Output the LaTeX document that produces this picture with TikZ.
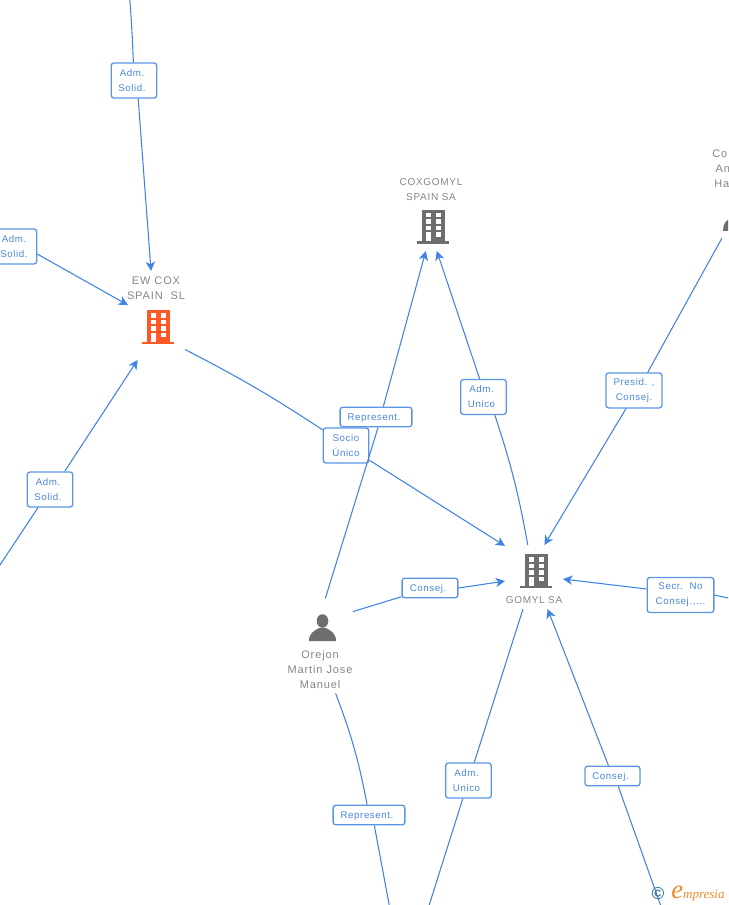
\documentclass[tikz,border=0pt]{standalone}
\usepackage{fontspec}
\usetikzlibrary{arrows.meta}
\newfontfamily\linkfont[LetterSpace=6]{Liberation Sans}
\newfontfamily\namefont[LetterSpace=7]{Liberation Sans}
\newfontfamily\wordfont[LetterSpace=8]{Liberation Sans}
\newfontfamily\logofont{Liberation Serif}
\newcommand{\rt}{\kern3pt}
\definecolor{linkblue}{HTML}{3F84E5}
\definecolor{boxblue}{HTML}{5B96E6}
\definecolor{textblue}{HTML}{4A88DC}
\definecolor{namegray}{HTML}{858585}
\definecolor{icongray}{HTML}{6E6E6E}
\definecolor{iconorange}{HTML}{FF5A26}
\definecolor{logoteal}{HTML}{3F7C9C}
\definecolor{logoorange}{HTML}{EE8A2C}
\tikzset{
  link/.style={color=linkblue, line width=0.8pt},
  arrowlink/.style={link, -{Stealth[length=7pt, width=7pt, inset=2pt]}},
  relbox/.style={draw=boxblue, fill=white, line width=1pt, rounded corners=2pt, inner sep=0pt,
    text=textblue, align=center, font=\linkfont\fontsize{7.3}{11.25}\selectfont},
  twolines/.style={relbox, minimum width=34.2pt, minimum height=26.2pt},
  oneline/.style={relbox, minimum height=14.7pt, text height=5.2pt, text depth=0pt},
  entity/.style={inner sep=0pt, outer sep=0pt},
  caption/.style={text=namegray, align=center, inner sep=0pt, font=\namefont\fontsize{7.5}{11.25}\selectfont},
  bigcaption/.style={caption, font=\wordfont\fontsize{8.25}{11.25}\selectfont}
}
\newcommand{\buildingicon}[3]{
  \begin{scope}[shift={(#1,#2)}]
    \fill [#3] (-16,-2.5) rectangle (16,0);
    \fill [#3] (-11,-34) rectangle (11.5,0);
    \foreach \rowy in {-31,-24.5,-18,-11.5} {
      \fill [white] (2.5,\rowy) rectangle (7.5,\rowy+4.5);
    }
    \foreach \rowy in {-31,-24.5,-18} {
      \fill [white] (-7.5,\rowy) rectangle (-2.5,\rowy+4.5);
    }
    \fill [white] (-7.5,-11.5) rectangle (-2.5,-2.5);
  \end{scope}
}
\begin{document}
\begin{tikzpicture}[x=0.75pt, y=-0.75pt]
    \path [use as bounding box, clip] (0,0) rectangle (728,905);

    \buildingicon{158}{344}{iconorange}
    \buildingicon{433}{244}{icongray}
    \buildingicon{536}{588}{icongray}

    \fill [icongray] (322.5,621) ellipse (5.8 and 6.8);
    \fill [icongray] (309,641) .. controls (309,633) and (314,631) .. (319,628) -- (326,628)
      .. controls (331,631) and (336,633) .. (336,641) -- cycle;
    \fill [icongray] (723,231) .. controls (723,224) and (726,220) .. (730,219) -- (730,231) -- cycle;

    \node (ewcox) at (156.5,315.5) [entity, minimum width=42.75pt, minimum height=66.75pt] {};
    \node (coxgomyl) at (432,212) [entity, minimum width=37.5pt, minimum height=58.5pt] {};
    \node (gomyl) at (534,577) [entity, minimum width=43.5pt, minimum height=48pt] {};
    \node (orejon) at (322,646) [entity, minimum width=46.5pt, minimum height=71.25pt] {};
    \node (cohen) at (745,190) [entity, minimum width=34.5pt, minimum height=72pt] {};

    \node (ewcoxname) at (156,288.5) [bigcaption] {EW COX\\SPAIN\ \ SL};
    \node (coxgomylname) at (431,190) [caption] {COXGOMYL\\SPAIN SA};
    \node (gomylname) at (534,600) [caption] {GOMYL SA};
    \node (orejonname) at (320,670) [bigcaption] {Orejon\\Martin Jose\\Manuel};
    \node (cohenname) at (712,169) [bigcaption, anchor=west, align=left] {Co\\\hspace*{2.5pt}An\\\hspace*{1.5pt}Ha};

    \coordinate (topfree) at (129.5,-5);
    \coordinate (leftfree) at (-4,571);
    \coordinate (rightfree) at (760,605);
    \coordinate (bottomA) at (390.5,912);
    \coordinate (bottomB) at (427,912);
    \coordinate (bottomC) at (663,912);

    \node (admtop) at (134,80.5) [twolines] {Adm.\rt\\Solid.\rt};
    \node (admleft) at (14,246.5) [twolines] {Adm.\\Solid.};
    \node (admlow) at (50,489.5) [twolines] {Adm.\rt\\Solid.\rt};
    \node (socio) at (346,445.5) [twolines] {Socio\\Único};
    \node (repup) at (376,417) [oneline, minimum width=53.8pt] {Represent.\rt};
    \node (admcox) at (483.5,397) [twolines] {Adm.\rt\\Unico\rt};
    \node (presid) at (634,390.5) [twolines, minimum width=42pt] {Presid. ,\\Consej.};
    \node (secr) at (680.5,595) [twolines, minimum width=50pt] {Secr.\ \ No\\Consej.,...};
    \node (consejleft) at (430,588) [oneline, minimum width=41.8pt] {Consej.\rt};
    \node (repdown) at (369,815) [oneline, minimum width=53.8pt] {Represent.\rt};
    \node (admgomyl) at (468.5,780.5) [twolines] {Adm.\rt\\Unico\rt};
    \node (consejlow) at (612.5,776) [oneline, minimum width=41.2pt] {Consej.\rt};

    \draw [link] (topfree) to [bend left=1] (admtop);
    \draw [arrowlink] (admtop.283) -- (ewcox.97);
    \draw [arrowlink] (admleft.342) -- (ewcox.160);
    \draw [link] (leftfree) -- (admlow);
    \draw [arrowlink] (admlow.51) -- (ewcox.247);
    \draw [link] (ewcox.310) to [bend left=3] (socio);
    \draw [arrowlink] (socio) -- (gomyl.133);
    \draw [link] (orejon.86) -- (repup.281);
    \draw [arrowlink] (repup.55) -- (coxgomyl.261);
    \draw [link] (gomyl.101) to [bend right=4] (admcox.302);
    \draw [arrowlink] (admcox.102) -- (coxgomyl.277);
    \draw [link] (cohen.south west) -- (presid.53);
    \draw [arrowlink] (presid.246) -- (gomyl.72);
    \draw [link] (rightfree) -- (secr.east);
    \draw [arrowlink] (secr.170) -- (gomyl.-4);
    \draw [link] (orejon.48.5) -- (consejleft);
    \draw [arrowlink] (consejleft.east) -- (gomyl.188);
    \draw [link] (orejon.286) to [bend left=5] (repdown);
    \draw [link] (repdown.297) -- (bottomA);
    \draw [link] (gomyl.251) -- (admgomyl);
    \draw [link] (admgomyl) -- (bottomB);
    \draw [link] (bottomC) -- (consejlow.299);
    \draw [arrowlink] (consejlow) -- (gomyl.293);

    \node (logomark) at (658,894) [text=logoteal, inner sep=0pt, font=\linkfont\bfseries\fontsize{13}{13}\selectfont] {©};
    \node (logotext) at (671,898) [anchor=base west, text=logoorange, inner sep=0pt] {\logofont\itshape\fontsize{20}{20}\selectfont e\fontsize{9.75}{20}\selectfont mpresia};
\end{tikzpicture}
\end{document}
